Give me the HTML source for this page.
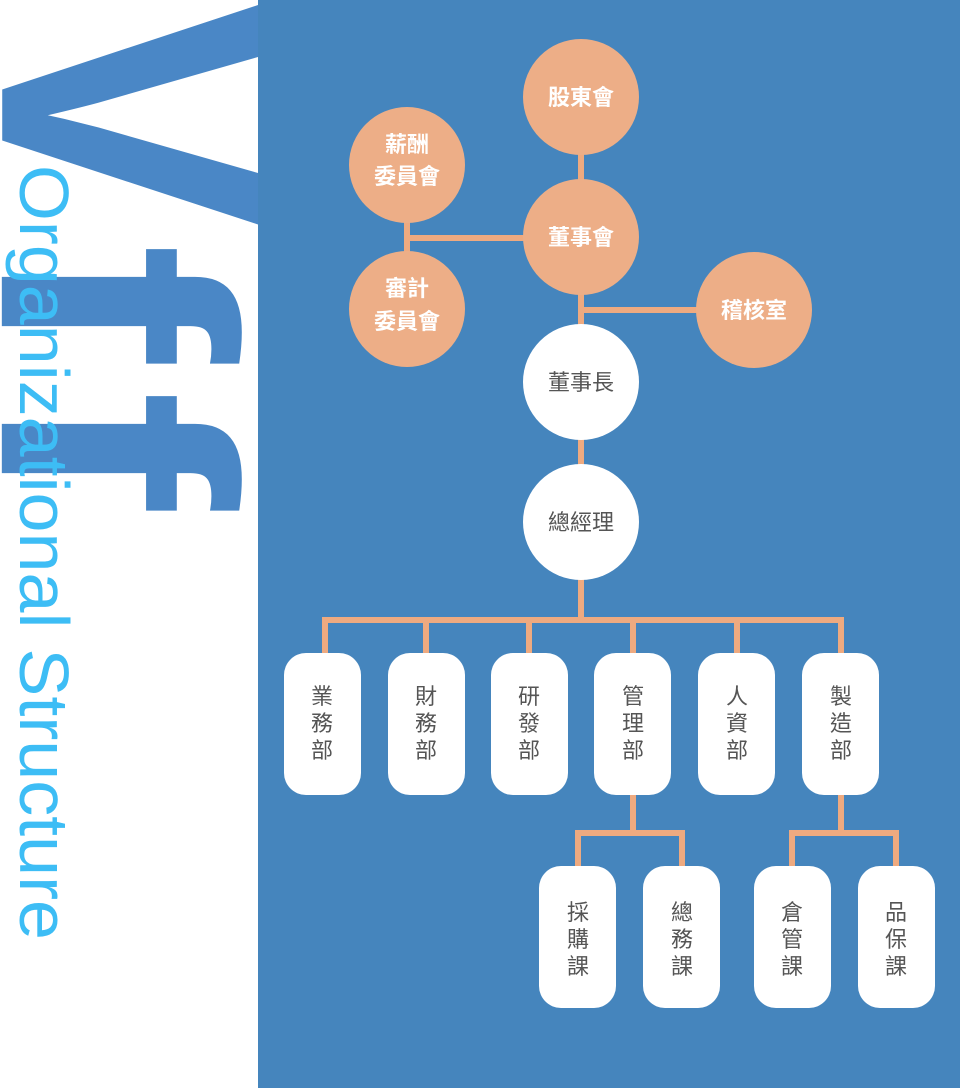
<!DOCTYPE html>
<html><head><meta charset="utf-8"><style>
html,body{margin:0;padding:0;background:#fff;}
</style></head><body>
<svg width="960" height="1088" xmlns="http://www.w3.org/2000/svg" style="display:block">
<defs><clipPath id="c"><rect x="0" y="0" width="258" height="1088"/></clipPath></defs>
<rect width="960" height="1088" fill="#fff"/>
<g clip-path="url(#c)" font-family="Liberation Sans, sans-serif" font-weight="bold" fill="#4a87c6">
<text x="-2" y="-2" transform="rotate(90) scale(1,1.12)" font-size="350">V</text>
<text x="243" y="-2" transform="rotate(90) scale(1,0.92)" font-size="360">f</text>
<text x="390" y="-2" transform="rotate(90) scale(1,0.92)" font-size="360">f</text>
</g>
<text x="165" y="-20" transform="rotate(90)" font-family="Liberation Sans, sans-serif" font-size="70" fill="#3dbdf5" textLength="775" lengthAdjust="spacingAndGlyphs">Organizational Structure</text>
<rect x="258" y="0" width="702" height="1088" fill="#4585bd"/>
<g stroke="#eeaa80" stroke-width="6" fill="none">
<line x1="581" y1="97" x2="581" y2="522"/>
<line x1="407" y1="165" x2="407" y2="309"/>
<line x1="407" y1="238" x2="581" y2="238"/>
<line x1="581" y1="310" x2="754" y2="310"/>
<line x1="581" y1="522" x2="581" y2="620"/>
<polyline points="325,660 325,620 841,620 841,660"/>
<line x1="426" y1="620" x2="426" y2="660"/>
<line x1="529" y1="620" x2="529" y2="660"/>
<line x1="633" y1="620" x2="633" y2="660"/>
<line x1="737" y1="620" x2="737" y2="660"/>
<polyline points="633,790 633,833"/>
<polyline points="578,870 578,833 682,833 682,870"/>
<polyline points="841,790 841,833"/>
<polyline points="792,870 792,833 896,833 896,870"/>
</g>
<g fill="#edae87">
<circle cx="581" cy="97" r="58"/>
<circle cx="581" cy="237" r="58"/>
<circle cx="407" cy="165" r="58"/>
<circle cx="407" cy="309" r="58"/>
<circle cx="754" cy="310" r="58"/>
</g>
<g fill="#fff">
<circle cx="581" cy="382" r="58"/>
<circle cx="581" cy="522" r="58"/>
<rect x="284" y="653" width="77" height="142" rx="22"/>
<rect x="388" y="653" width="77" height="142" rx="22"/>
<rect x="491" y="653" width="77" height="142" rx="22"/>
<rect x="594" y="653" width="77" height="142" rx="22"/>
<rect x="698" y="653" width="77" height="142" rx="22"/>
<rect x="802" y="653" width="77" height="142" rx="22"/>
<rect x="539" y="866" width="77" height="142" rx="22"/>
<rect x="643" y="866" width="77" height="142" rx="22"/>
<rect x="754" y="866" width="77" height="142" rx="22"/>
<rect x="858" y="866" width="77" height="142" rx="22"/>
</g>
<g font-family="Liberation Sans, Noto Sans CJK TC, sans-serif" font-size="22" font-weight="bold" fill="#fff" text-anchor="middle">
<text x="581" y="105">股東會</text>
<text x="581" y="245">董事會</text>
<text x="407" y="152">薪酬</text>
<text x="407" y="184">委員會</text>
<text x="407" y="296">審計</text>
<text x="407" y="329">委員會</text>
<text x="754" y="318">稽核室</text>
</g>
<g font-family="Liberation Sans, Noto Sans CJK TC, sans-serif" font-size="22" fill="#555" text-anchor="middle">
<text x="581" y="390">董事長</text>
<text x="581" y="530">總經理</text>
</g>
<g font-family="Liberation Sans, Noto Sans CJK TC, sans-serif" font-size="22" fill="#555" text-anchor="middle">
<text x="322" y="704">業</text><text x="322" y="731">務</text><text x="322" y="758">部</text>
<text x="426" y="704">財</text><text x="426" y="731">務</text><text x="426" y="758">部</text>
<text x="529" y="704">研</text><text x="529" y="731">發</text><text x="529" y="758">部</text>
<text x="633" y="704">管</text><text x="633" y="731">理</text><text x="633" y="758">部</text>
<text x="737" y="704">人</text><text x="737" y="731">資</text><text x="737" y="758">部</text>
<text x="841" y="704">製</text><text x="841" y="731">造</text><text x="841" y="758">部</text>
<text x="578" y="920">採</text><text x="578" y="947">購</text><text x="578" y="974">課</text>
<text x="682" y="920">總</text><text x="682" y="947">務</text><text x="682" y="974">課</text>
<text x="792" y="920">倉</text><text x="792" y="947">管</text><text x="792" y="974">課</text>
<text x="896" y="920">品</text><text x="896" y="947">保</text><text x="896" y="974">課</text>
</g>
</svg>
</body></html>
